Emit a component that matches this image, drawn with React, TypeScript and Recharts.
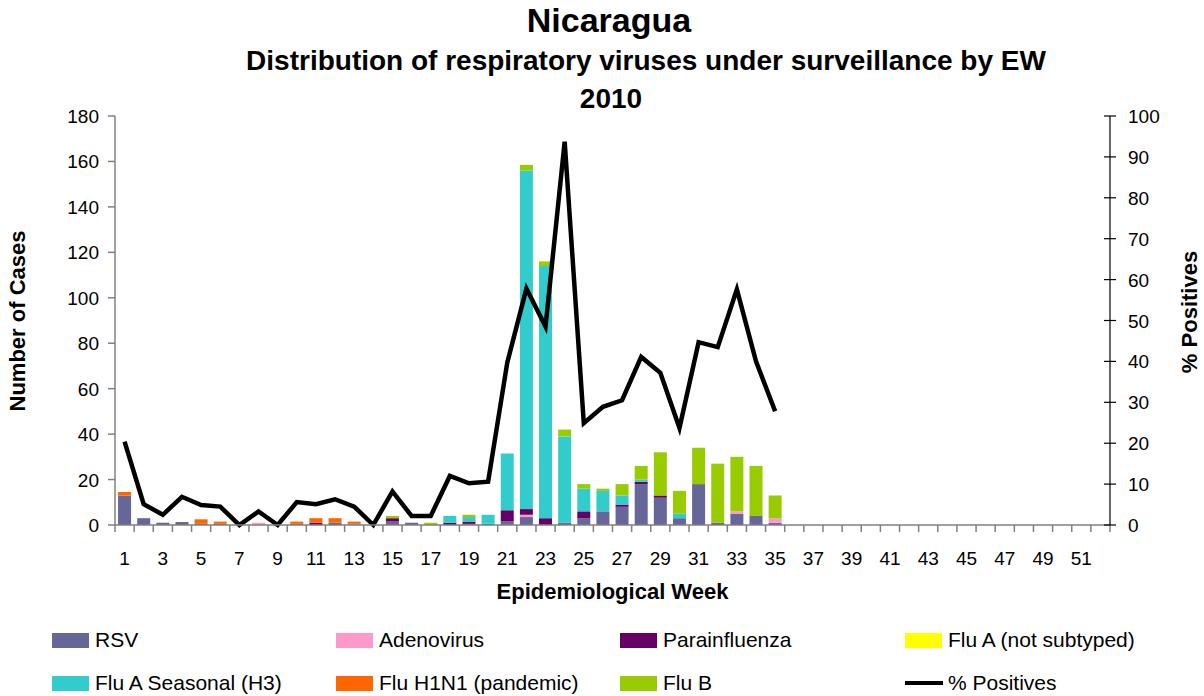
import React from "react";
import { ComposedChart, Bar, Line, XAxis, YAxis } from "recharts";

const weeks = Array.from({ length: 52 }, (_, i) => i + 1);

const rsv = [13, 3, 1, 1.3, 0.5, 0.5, 0, 0, 0, 0.5, 0, 1, 0, 0, 1.5, 1, 0, 0, 0.5, 0.5, 1.5, 3.5, 0, 1, 3, 6, 8, 18, 12, 3, 18, 1, 5, 4, 1];
const adenovirus = [0, 0, 0, 0, 0, 0, 0, 1, 0, 0, 0, 0, 0, 0, 0, 0, 0, 0, 0, 0, 0, 1, 0, 0, 0, 0, 0, 0, 0, 0, 0, 0, 1, 0, 2];
const parainfluenza = [0, 0, 0, 0, 0, 0, 0, 0, 0, 0, 1, 0, 0, 0, 1.5, 0, 0, 1, 1, 0, 5, 2.5, 3, 0, 3, 0, 1, 1, 1, 0, 0, 0, 0, 0, 0];
const fluANotSubtyped = [0, 0, 0, 0, 0, 0, 0, 0, 0, 0, 0, 0, 0, 0, 0, 0, 0, 0, 0, 0, 0, 0, 0, 0, 0, 0, 0, 0, 0, 0, 0, 0, 0, 0, 0];
const fluAH3 = [0, 0, 0, 0, 0, 0, 0, 0, 0, 0, 0, 0, 0.5, 0, 0, 0, 0, 3, 2, 4, 25, 149, 111, 38, 10, 9, 4, 1, 0, 2, 0, 0, 0, 0, 0];
const fluH1N1 = [1.5, 0, 0, 0, 2, 1, 0, 0, 0, 1, 2, 2, 1, 0, 0, 0, 0, 0, 0, 0, 0, 0, 0, 0, 0, 0, 0, 0, 0, 0, 0, 0, 0, 0, 0];
const fluB = [0, 0, 0, 0, 0, 0, 0, 0, 0, 0, 0, 0, 0, 0, 1, 0, 1, 0, 1, 0, 0, 2.5, 2, 3, 2, 1, 5, 6, 19, 10, 16, 26, 24, 22, 10];
const pctPositives = [20.4, 5.1, 2.5, 6.9, 4.9, 4.5, 0, 3.3, 0, 5.6, 5.1, 6.3, 4.5, 0, 8.2, 2.2, 2.2, 12.0, 10.2, 10.6, 39.7, 57.8, 48.5, 93.7, 24.9, 28.9, 30.5, 41.1, 37.2, 23.7, 44.7, 43.5, 57.6, 40.0, 27.8];

const leftTicks = [0, 20, 40, 60, 80, 100, 120, 140, 160, 180];
const rightTicks = [0, 10, 20, 30, 40, 50, 60, 70, 80, 90, 100];

const seriesKeys = ["rsv", "adeno", "para", "fluA", "h3", "h1n1", "fluB"];
const seriesNames = ["RSV", "Adenovirus", "Parainfluenza", "Flu A (not subtyped)", "Flu A Seasonal (H3)", "Flu H1N1 (pandemic)", "Flu B"];
const seriesColors = ["#666699", "#FF99CC", "#660066", "#FFFF00", "#33CCCC", "#FF6600", "#99CC00"];
const seriesArrays = [rsv, adenovirus, parainfluenza, fluANotSubtyped, fluAH3, fluH1N1, fluB];

const data = weeks.map((w, i) => {
  const row: Record<string, number | string | null> = { week: String(w) };
  seriesKeys.forEach((k, j) => {
    row[k] = i < seriesArrays[j].length ? seriesArrays[j][i] : 0;
  });
  row.pct = i < pctPositives.length ? pctPositives[i] : null;
  return row;
});

const FONT = "'Liberation Sans', Arial, sans-serif";
const W = 1204;
const H = 696;
const PLOT_LEFT = 115;
const PLOT_RIGHT = 1110;
const PLOT_TOP = 116;
const PLOT_BOTTOM = 525;
const STEP = (PLOT_RIGHT - PLOT_LEFT) / weeks.length;

const XTick = (props: any) => {
  const { x, y, payload, index } = props;
  const w = Number(payload.value);
  return (
    <g>
      <line x1={x - STEP / 2} x2={x - STEP / 2} y1={y} y2={y + 7} stroke="#808080" strokeWidth={1.5} />
      {index === weeks.length - 1 && (
        <line x1={x + STEP / 2} x2={x + STEP / 2} y1={y} y2={y + 7} stroke="#808080" strokeWidth={1.5} />
      )}
      {w % 2 === 1 && (
        <text x={x} y={y + 40} textAnchor="middle" fontSize={19} fontFamily={FONT} fill="#000">
          {payload.value}
        </text>
      )}
    </g>
  );
};

const LeftTick = (props: any) => {
  const { x, y, payload } = props;
  return (
    <g>
      <line x1={x - 7} x2={x} y1={y} y2={y} stroke="#808080" strokeWidth={1.5} />
      <text x={x - 16} y={y + 7} textAnchor="end" fontSize={19} fontFamily={FONT} fill="#000">
        {payload.value}
      </text>
    </g>
  );
};

const RightTick = (props: any) => {
  const { x, y, payload } = props;
  return (
    <g>
      <line x1={x - 6} x2={x + 6} y1={y} y2={y} stroke="#000" strokeWidth={1.2} />
      <text x={x + 18} y={y + 7} textAnchor="start" fontSize={19} fontFamily={FONT} fill="#000">
        {payload.value}
      </text>
    </g>
  );
};

const legendCols = [52, 336, 620, 905];
const legendRows = [640, 683];

export default function App() {
  return (
    <div style={{ position: "absolute", left: 0, top: 0, width: W, height: H, background: "#fff", fontFamily: FONT }}>
      <ComposedChart
        width={W}
        height={H}
        data={data}
        margin={{ top: PLOT_TOP, right: W - PLOT_RIGHT - 60, bottom: H - PLOT_BOTTOM - 40, left: PLOT_LEFT - 60 }}
        barCategoryGap="16%"
      >
        <XAxis
          dataKey="week"
          interval={0}
          height={40}
          tickLine={false}
          tickSize={0}
          tickMargin={0}
          axisLine={{ stroke: "#808080", strokeWidth: 1.5 }}
          tick={<XTick />}
        />
        <YAxis
          yAxisId="left"
          width={60}
          domain={[0, 180]}
          ticks={leftTicks}
          interval={0}
          tickLine={false}
          tickSize={0}
          tickMargin={0}
          axisLine={{ stroke: "#808080", strokeWidth: 1.5 }}
          tick={<LeftTick />}
        />
        <YAxis
          yAxisId="right"
          orientation="right"
          width={60}
          domain={[0, 100]}
          ticks={rightTicks}
          interval={0}
          tickLine={false}
          tickSize={0}
          tickMargin={0}
          axisLine={{ stroke: "#000", strokeWidth: 1.2 }}
          tick={<RightTick />}
        />
        {seriesKeys.map((k, j) => (
          <Bar
            key={k}
            yAxisId="left"
            dataKey={k}
            name={seriesNames[j]}
            stackId="s"
            fill={seriesColors[j]}
            isAnimationActive={false}
          />
        ))}
        <Line
          yAxisId="right"
          dataKey="pct"
          name="% Positives"
          stroke="#000"
          strokeWidth={4.5}
          strokeLinejoin="miter"
          dot={false}
          activeDot={false}
          connectNulls={false}
          isAnimationActive={false}
        />
      </ComposedChart>

      <div style={{ position: "absolute", left: 609 - 300, width: 600, top: 0, textAlign: "center", fontWeight: "bold", fontSize: 34, lineHeight: "40px", whiteSpace: "nowrap" }}>
        Nicaragua
      </div>
      <div style={{ position: "absolute", left: 646 - 500, width: 1000, top: 44, textAlign: "center", fontWeight: "bold", fontSize: 28, lineHeight: "34px", whiteSpace: "nowrap" }}>
        Distribution of respiratory viruses under surveillance by EW
      </div>
      <div style={{ position: "absolute", left: 611 - 100, width: 200, top: 82, textAlign: "center", fontWeight: "bold", fontSize: 28, lineHeight: "34px", whiteSpace: "nowrap" }}>
        2010
      </div>

      <div style={{ position: "absolute", left: 18, top: 321, transform: "translate(-50%, -50%) rotate(-90deg)", whiteSpace: "nowrap", fontWeight: "bold", fontSize: 22 }}>
        Number of Cases
      </div>
      <div style={{ position: "absolute", left: 1190, top: 312, transform: "translate(-50%, -50%) rotate(-90deg)", whiteSpace: "nowrap", fontWeight: "bold", fontSize: 22 }}>
        % Positives
      </div>
      <div style={{ position: "absolute", left: PLOT_LEFT, width: PLOT_RIGHT - PLOT_LEFT, top: 578, textAlign: "center", whiteSpace: "nowrap", fontWeight: "bold", fontSize: 22, lineHeight: "28px" }}>
        Epidemiological Week
      </div>

      {seriesNames.map((n, j) => {
        const col = j % 4;
        const row = Math.floor(j / 4);
        return (
          <div key={n} style={{ position: "absolute", left: legendCols[col], top: legendRows[row] - 13, height: 26, display: "flex", alignItems: "center", fontSize: 21, whiteSpace: "nowrap" }}>
            <span style={{ display: "inline-block", width: 37, height: 15, background: seriesColors[j], marginRight: 6 }} />
            {n}
          </div>
        );
      })}
      <div style={{ position: "absolute", left: legendCols[3], top: legendRows[1] - 13, height: 26, display: "flex", alignItems: "center", fontSize: 21, whiteSpace: "nowrap" }}>
        <span style={{ display: "inline-block", width: 38, height: 4, background: "#000", marginRight: 5 }} />
        % Positives
      </div>
    </div>
  );
}
